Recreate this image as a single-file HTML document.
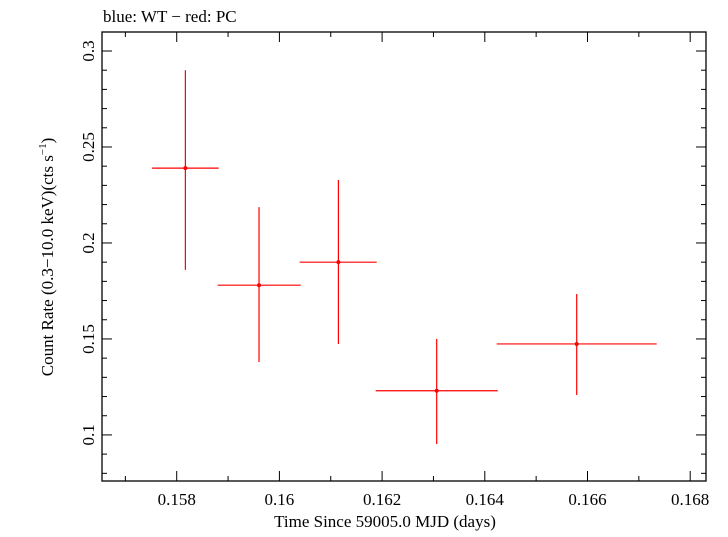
<!DOCTYPE html>
<html><head><meta charset="utf-8"><style>
body{margin:0;background:#fff;}
svg text{font-family:"Liberation Serif",serif;fill:#000;}
</style></head><body>
<svg id="chart" width="728" height="532" xmlns="http://www.w3.org/2000/svg">
<text x="103" y="22" font-size="17">blue: WT − red: PC</text>
<g id="axes"></g>
<g id="marks"></g>
<text x="385" y="527" font-size="17" text-anchor="middle">Time Since 59005.0 MJD (days)</text>
<text transform="translate(53,257) rotate(-90)" font-size="17" text-anchor="middle">Count Rate (0.3−10.0 keV)(cts s<tspan font-size="11" dy="-7">−1</tspan><tspan dy="7">)</tspan></text>
</svg>
<script>
const xVals=[0.158169,0.159603,0.161149,0.163063,0.165790];
const xLo=[0.157519,0.158798,0.160395,0.161875,0.164232];
const xHi=[0.158818,0.160415,0.161895,0.164251,0.167348];
const yVals=[0.239,0.178,0.190,0.123,0.1474];
const yLo=[0.186,0.138,0.1474,0.0953,0.1208];
const yHi=[0.290,0.2187,0.2328,0.150,0.1734];
const xTicks=[0.158,0.160,0.162,0.164,0.166,0.168];
const xTickLabels=["0.158","0.16","0.162","0.164","0.166","0.168"];
const yTicks=[0.1,0.15,0.2,0.25,0.3];
const yTickLabels=["0.1","0.15","0.2","0.25","0.3"];
const L=102,R=706,T=32,B=481;
const xMin=0.156545,xMax=0.168308,yMin=0.076,yMax=0.3099;
const sx=v=>L+(v-xMin)/(xMax-xMin)*(R-L);
const sy=v=>B-(v-yMin)/(yMax-yMin)*(B-T);
const NS="http://www.w3.org/2000/svg";
function mk(tag,attrs,parent){const e=document.createElementNS(NS,tag);for(const k in attrs)e.setAttribute(k,attrs[k]);parent.appendChild(e);return e;}
const ax=document.getElementById('axes'),mg=document.getElementById('marks');
const frame=mk('rect',{x:L,y:T,width:R-L,height:B-T,fill:'none',stroke:'#000','stroke-width':1.3},ax);


for(let i=157;i<=168;i++){const v=i/1000;const x=sx(v);const len=(i%2===0)?10:5;
 mk('line',{x1:x,y1:B,x2:x,y2:B-len,stroke:'#000'},ax);
 mk('line',{x1:x,y1:T,x2:x,y2:T+len,stroke:'#000'},ax);}
for(let i=8;i<=30;i++){const v=i/100;const y=sy(v);const len=(i%5===0)?10:5;
 mk('line',{x1:L,y1:y,x2:L+len,y2:y,stroke:'#000'},ax);
 mk('line',{x1:R,y1:y,x2:R-len,y2:y,stroke:'#000'},ax);}
xTicks.forEach((v,i)=>{const t=mk('text',{x:sx(v),y:505,'font-size':17,'text-anchor':'middle'},ax);t.textContent=xTickLabels[i];
 
 });
yTicks.forEach((v,i)=>{const t=mk('text',{transform:`translate(94,${sy(v)}) rotate(-90)`,'font-size':17,'text-anchor':'middle'},ax);t.textContent=yTickLabels[i];
 
 });
xVals.forEach((v,i)=>{const g=mk('g',{},mg);
 
 
 mk('line',{x1:sx(xLo[i]),y1:sy(yVals[i]),x2:sx(xHi[i]),y2:sy(yVals[i]),stroke:'#f00','stroke-width':1.2},g);
 mk('line',{x1:sx(v),y1:sy(yLo[i]),x2:sx(v),y2:sy(yHi[i]),stroke:'#f00','stroke-width':1.2},g);
 mk('circle',{cx:sx(v),cy:sy(yVals[i]),r:2,fill:'#f00'},g);});
</script>
</body></html>
